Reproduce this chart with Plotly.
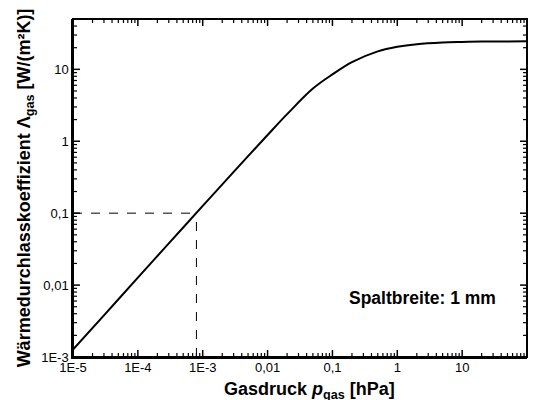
import math
import plotly.graph_objects as go

# Data
pressure_hpa = [1e-5, 3e-5, 1e-4, 3e-4, 1e-3, 3e-3, 0.01, 0.02, 0.05, 0.1,
                0.2, 0.5, 1, 2, 5, 10, 20, 50, 100]
lambda_gas = [0.00127, 0.0038, 0.0127, 0.038, 0.126, 0.375, 1.22, 2.38, 5.4, 8.5,
              12.6, 17.8, 20.6, 22.4, 23.6, 24.0, 24.3, 24.4, 24.5]

marker_p = 8e-4
marker_lambda = 0.1
x_min, y_min = 1e-5, 1e-3

x_tickvals = [1e-5, 1e-4, 1e-3, 0.01, 0.1, 1, 10, 100]
x_ticktext = ["1E-5", "1E-4", "1E-3", "0,01", "0,1", "1", "10", "100"]
y_tickvals = [1e-3, 0.01, 0.1, 1, 10]
y_ticktext = ["1E-3", "0,01", "0,1", "1", "10"]

X_RANGE = [-5, 2]
Y_RANGE = [-3, 1.7]


def minor_positions(decades):
    return [m * d for d in decades for m in range(2, 10)]


x_minor = minor_positions(x_tickvals[:-1])
y_minor = [v for v in minor_positions(y_tickvals) if v <= 50]

FONT = "Liberation Sans, Arial"

fig = go.Figure()
fig.add_trace(go.Scatter(x=[x_min, marker_p], y=[marker_lambda, marker_lambda],
                         mode="lines", line=dict(color="black", width=1, dash="dash"),
                         showlegend=False))
fig.add_trace(go.Scatter(x=[marker_p, marker_p], y=[y_min, marker_lambda],
                         mode="lines", line=dict(color="black", width=1, dash="dash"),
                         showlegend=False))
fig.add_trace(go.Scatter(x=pressure_hpa, y=lambda_gas, mode="lines",
                         line=dict(color="black", width=2, shape="spline"),
                         showlegend=False))

base = dict(type="log", showgrid=False, zeroline=False, automargin=False,
            showline=True, linecolor="black", linewidth=1.5, ticks="",
            tickmode="array", tickfont=dict(family=FONT, size=13, color="black"))

fig.update_xaxes(**base, range=X_RANGE, tickvals=x_tickvals, ticktext=x_ticktext,
                 ticklabelstandoff=-2)
fig.update_yaxes(**base, range=Y_RANGE, tickvals=y_tickvals, ticktext=y_ticktext,
                 title=dict(text="<b>Wärmedurchlasskoeffizient Λ<sub>gas</sub> [W/(m²K)]</b>",
                            font=dict(family=FONT, size=18, color="black"),
                            standoff=6))

# x-axis title placed as text just below the tick labels
fig.add_annotation(text="<b>Gasdruck <i>p</i><sub>gas</sub> [hPa]</b>",
                   xref="paper", yref="paper", x=0.522, y=-0.059,
                   xanchor="center", yanchor="top", showarrow=False,
                   font=dict(family=FONT, size=18, color="black"))

# frame around the plot area
fig.add_shape(type="rect", xref="paper", yref="paper", x0=0, x1=1, y0=0, y1=1,
              line=dict(color="black", width=2), layer="above")


def frac(v, rng):
    return (math.log10(v) - rng[0]) / (rng[1] - rng[0])


tick_style = dict(type="line", layer="above")
for vals, length, width in [(x_tickvals, 7, 1.5), (x_minor, 4, 1.2)]:
    for v in vals:
        f = frac(v, X_RANGE)
        for anchor, sign in [(0, 1), (1, -1)]:
            fig.add_shape(**tick_style, xref="x domain", yref="y domain",
                          ysizemode="pixel", yanchor=anchor, x0=f, x1=f,
                          y0=0, y1=sign * length, line=dict(color="black", width=width))
for vals, length, width in [(y_tickvals, 7, 1.5), (y_minor, 4, 1.2)]:
    for v in vals:
        f = frac(v, Y_RANGE)
        for anchor, sign in [(0, 1), (1, -1)]:
            fig.add_shape(**tick_style, xref="x domain", yref="y domain",
                          xsizemode="pixel", xanchor=anchor, y0=f, y1=f,
                          x0=0, x1=sign * length, line=dict(color="black", width=width))

fig.add_annotation(text="<b>Spaltbreite: 1 mm</b>", xref="paper", yref="paper",
                   x=0.937, y=0.175, xanchor="right", yanchor="middle", showarrow=False,
                   font=dict(family=FONT, size=17.5, color="black"))

fig.update_layout(width=537, height=400, margin=dict(l=73, r=10, t=19, b=43),
                  plot_bgcolor="white", paper_bgcolor="white")

# remove the default page margin so the 537x400 figure fills the window exactly
fig.write_html("out.html", config={"displayModeBar": False},
               post_script="document.documentElement.style.overflow='hidden';"
                           "document.body.style.margin='0';"
                           "document.body.style.overflow='hidden';")
